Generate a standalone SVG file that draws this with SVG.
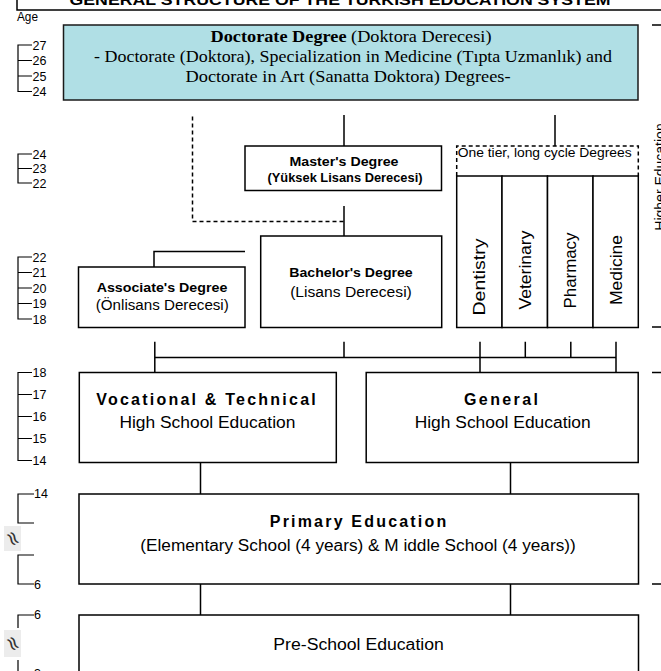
<svg xmlns="http://www.w3.org/2000/svg" width="661" height="671" viewBox="0 0 661 671">
<style>
.box{fill:#fff;stroke:#000;stroke-width:1.5}
.doc{fill:#b0dfe5;stroke:#1a1a1a;stroke-width:1.5}
.ln{stroke:#000;stroke-width:1.5;fill:none}
.thin{stroke:#000;stroke-width:1.2;fill:none}
.dash{stroke-dasharray:4 3}
.sans{font-family:"Liberation Sans",Arial,sans-serif;fill:#000}
.serif{font-family:"Liberation Serif","Times New Roman",serif;fill:#000}
.b{font-weight:bold}
.age{font-family:"Liberation Sans",Arial,sans-serif;font-size:12.5px;fill:#000}
.mid{text-anchor:middle}
.wave{font-family:"DejaVu Sans",sans-serif;font-size:20px;fill:#333;text-anchor:middle}
</style>
<rect width="661" height="671" fill="#fff"/>

<g id="title">
<path class="ln" d="M17 0V10H661"/>
<text class="sans b mid" x="340" y="5" font-size="15" textLength="541" lengthAdjust="spacingAndGlyphs">GENERAL STRUCTURE OF THE TURKISH EDUCATION SYSTEM</text>
</g>

<g id="age-scale">
<text class="sans" x="17" y="20.5" font-size="12" textLength="21" lengthAdjust="spacingAndGlyphs">Age</text>
<path class="thin" d="M32 45H18V91.5H32M18 60.5H32M18 76H32"/>
<text class="age" x="32.5" y="49.5">27</text>
<text class="age" x="32.5" y="65">26</text>
<text class="age" x="32.5" y="80.5">25</text>
<text class="age" x="32.5" y="96">24</text>
<path class="thin" d="M32 154H18V183H32M18 168.5H32"/>
<text class="age" x="32.5" y="158.5">24</text>
<text class="age" x="32.5" y="173">23</text>
<text class="age" x="32.5" y="187.5">22</text>
<path class="thin" d="M32 257H18V319H32M18 272.5H32M18 288H32M18 303.5H32"/>
<text class="age" x="32.5" y="261.5">22</text>
<text class="age" x="32.5" y="277">21</text>
<text class="age" x="32.5" y="292.5">20</text>
<text class="age" x="32.5" y="308">19</text>
<text class="age" x="32.5" y="323.5">18</text>
<path class="thin" d="M32 372.5H18V460.5H32M18 394.5H32M18 416.5H32M18 438.5H32"/>
<text class="age" x="32.5" y="377">18</text>
<text class="age" x="32.5" y="399">17</text>
<text class="age" x="32.5" y="421">16</text>
<text class="age" x="32.5" y="443">15</text>
<text class="age" x="32.5" y="465">14</text>
<path class="thin" d="M34 494H18V523H34M34 555H18V584H34"/>
<text class="age" x="34" y="498" font-size="11">14</text>
<text class="age" x="34" y="588.5">6</text>
<rect x="4" y="526" width="17" height="25" fill="#ececec"/>
<text class="wave" x="13" y="545" transform="rotate(60 13 538.5)">≈</text>
<path class="thin" d="M34 615H18V628M18 660V671"/>
<text class="age" x="34" y="619">6</text>
<rect x="4" y="630" width="17" height="27" fill="#ececec"/>
<text class="wave" x="13" y="650" transform="rotate(60 13 643.5)">≈</text>
<text class="age" x="34" y="678">3</text>
</g>

<g id="section-marks">
<path class="ln" d="M652 25H661M652 327H661M652 372.5H661M652 584H661"/>
<text class="sans mid" x="665" y="177" font-size="14" transform="rotate(-90 665 177)">Higher Education</text>
</g>

<g id="connectors">
<path class="ln" d="M344 115V146M555 115V146"/>
<path class="ln dash" d="M192.5 116.5V221.5H344"/>
<path class="ln" d="M344 206V236"/>
<path class="ln" d="M154 267V251.5H245"/>
<path class="ln" d="M154.8 341.7V372.5M154.8 357.5H616M344 341.7V357.5M480 341.7V372.5M525.3 341.7V357.5M570.8 341.7V357.5M616 341.7V372.5"/>
<path class="ln" d="M200.5 462.5V494M510.5 462.5V494M200.5 584V615M510.5 584V615"/>
</g>

<g id="doctorate">
<rect class="doc" x="63.5" y="25" width="574.5" height="75"/>
<text class="serif mid" x="351" y="42" font-size="17" textLength="281" lengthAdjust="spacingAndGlyphs"><tspan font-weight="bold">Doctorate Degree</tspan> (Doktora Derecesi)</text>
<text class="serif mid" x="353" y="62" font-size="17" textLength="518" lengthAdjust="spacingAndGlyphs">- Doctorate (Doktora), Specialization in Medicine (Tıpta Uzmanlık) and</text>
<text class="serif mid" x="348" y="81.5" font-size="17" textLength="325" lengthAdjust="spacingAndGlyphs">Doctorate in Art (Sanatta Doktora) Degrees-</text>
</g>

<g id="masters">
<rect class="box" x="245" y="146" width="196.5" height="44.5"/>
<text class="sans b mid" x="344" y="165.5" font-size="13.5" textLength="109" lengthAdjust="spacingAndGlyphs">Master's Degree</text>
<text class="sans b mid" x="345" y="181.5" font-size="13.5" textLength="155" lengthAdjust="spacingAndGlyphs">(Yüksek Lisans Derecesi)</text>
</g>

<g id="one-tier">
<path class="ln dash" d="M456.7 176V146H638.3V176"/>
<text class="sans mid" x="544.7" y="156.5" font-size="13" textLength="174" lengthAdjust="spacingAndGlyphs">One tier, long cycle Degrees</text>
</g>

<g id="dentistry">
<rect class="box" x="456.7" y="176" width="45.3" height="151.5"/>
<text class="sans mid" x="485.3" y="277" font-size="17" textLength="77" lengthAdjust="spacingAndGlyphs" transform="rotate(-90 485.3 277)">Dentistry</text>
</g>
<g id="veterinary">
<rect class="box" x="502" y="176" width="45.5" height="151.5"/>
<text class="sans mid" x="530.7" y="270" font-size="17" textLength="79" lengthAdjust="spacingAndGlyphs" transform="rotate(-90 530.7 270)">Veterinary</text>
</g>
<g id="pharmacy">
<rect class="box" x="547.5" y="176" width="45.5" height="151.5"/>
<text class="sans mid" x="576.2" y="270.5" font-size="17" textLength="76" lengthAdjust="spacingAndGlyphs" transform="rotate(-90 576.2 270.5)">Pharmacy</text>
</g>
<g id="medicine">
<rect class="box" x="593" y="176" width="45.3" height="151.5"/>
<text class="sans mid" x="621.6" y="270" font-size="17" textLength="70" lengthAdjust="spacingAndGlyphs" transform="rotate(-90 621.6 270)">Medicine</text>
</g>

<g id="bachelors">
<rect class="box" x="260.7" y="236" width="181" height="91.5"/>
<text class="sans b mid" x="351" y="277" font-size="13.5" textLength="123.4" lengthAdjust="spacingAndGlyphs">Bachelor's Degree</text>
<text class="sans mid" x="351" y="297" font-size="14" textLength="121.7" lengthAdjust="spacingAndGlyphs">(Lisans Derecesi)</text>
</g>

<g id="associate">
<rect class="box" x="78.5" y="267" width="166.5" height="60.5"/>
<text class="sans b mid" x="162" y="291.7" font-size="13.5" textLength="130.7" lengthAdjust="spacingAndGlyphs">Associate's Degree</text>
<text class="sans mid" x="162.3" y="309.5" font-size="14" textLength="133" lengthAdjust="spacingAndGlyphs">(Önlisans Derecesi)</text>
</g>

<g id="vocational">
<rect class="box" x="79.3" y="372.5" width="257" height="90"/>
<text class="sans b mid" x="206" y="405" font-size="16" textLength="219.4" lengthAdjust="spacing">Vocational &amp; Technical</text>
<text class="sans mid" x="207.4" y="428.3" font-size="16" textLength="176" lengthAdjust="spacingAndGlyphs">High School Education</text>
</g>

<g id="general">
<rect class="box" x="366.2" y="372.5" width="272" height="90"/>
<text class="sans b mid" x="501" y="405" font-size="16" textLength="74" lengthAdjust="spacing">General</text>
<text class="sans mid" x="502.7" y="428.3" font-size="16" textLength="176" lengthAdjust="spacingAndGlyphs">High School Education</text>
</g>

<g id="primary">
<rect class="box" x="79" y="494" width="559.5" height="90"/>
<text class="sans b mid" x="358" y="526.7" font-size="16" textLength="176.4" lengthAdjust="spacing">Primary Education</text>
<text class="sans mid" x="358" y="550.5" font-size="16" textLength="435.5" lengthAdjust="spacingAndGlyphs">(Elementary School (4 years) &amp; M iddle School (4 years))</text>
</g>

<g id="preschool">
<rect class="box" x="79" y="615" width="559.5" height="70"/>
<text class="sans mid" x="358.6" y="650" font-size="16" textLength="170.5" lengthAdjust="spacingAndGlyphs">Pre-School Education</text>
</g>
</svg>
